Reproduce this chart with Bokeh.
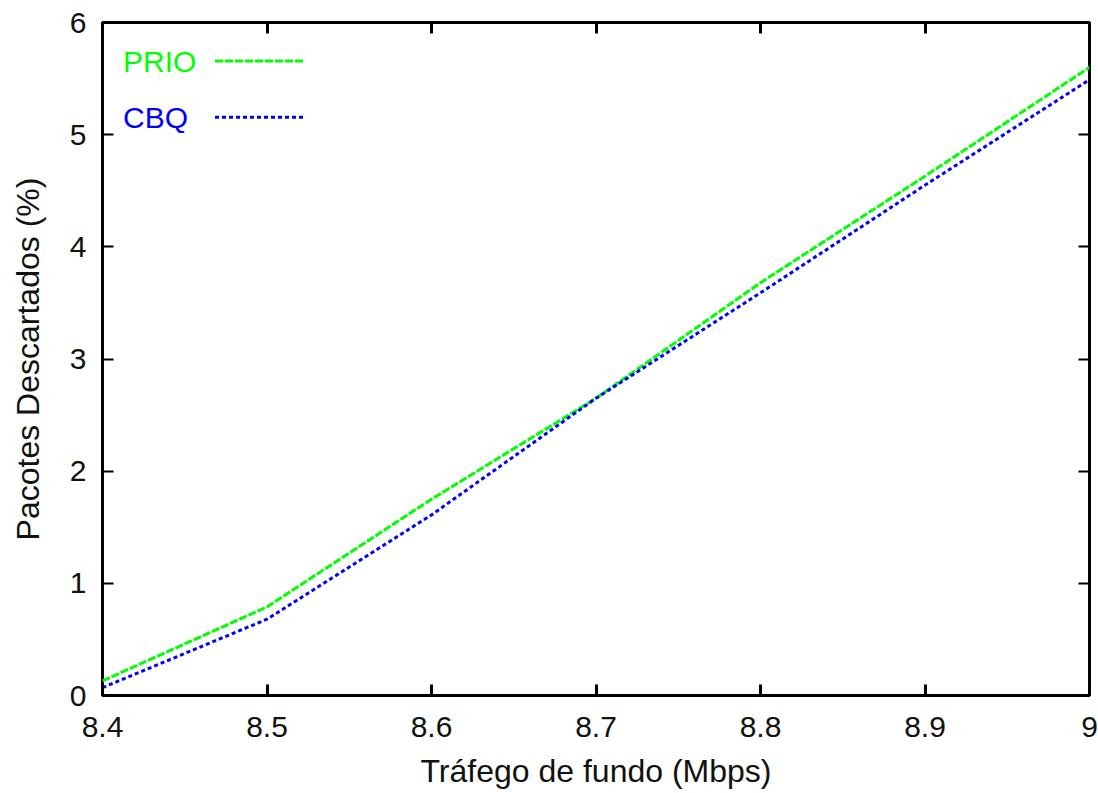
from bokeh.plotting import figure
from bokeh.models import (Range1d, FixedTicker, LinearAxis, Label, Arrow)
from bokeh.embed import file_html
from bokeh.resources import INLINE

# ---- data ----
traffic = [8.4, 8.5, 8.6, 8.7, 8.8, 8.9, 9.0]
prio = [0.13, 0.79, 1.75, 2.65, 3.68, 4.63, 5.60]
cbq = [0.07, 0.68, 1.61, 2.65, 3.59, 4.55, 5.49]

x_ticks = [8.4, 8.5, 8.6, 8.7, 8.8, 8.9, 9.0]
x_tick_labels = ["8.4", "8.5", "8.6", "8.7", "8.8", "8.9", "9"]
y_ticks = [0, 1, 2, 3, 4, 5, 6]
y_tick_labels = ["0", "1", "2", "3", "4", "5", "6"]

series_names = ["PRIO", "CBQ"]
series_colors = ["#00ff00", "#0000ff"]
series_dash = ["8 2", "4 3"]

FONT = "Liberation Sans"
FS = "30px"
LFS = "32px"

p = figure(width=1098, height=793, output_backend="svg", toolbar_location=None,
           x_range=Range1d(8.4, 9.0), y_range=Range1d(0, 6),
           min_border_left=102, min_border_right=9, min_border_top=22,
           min_border_bottom=98, x_axis_label="Tráfego de fundo (Mbps)",
           y_axis_label="Pacotes Descartados (%)")

p.grid.visible = False
p.outline_line_color = "black"
p.outline_line_width = 3
p.background_fill_color = "white"
p.border_fill_color = "white"

for ax in p.xaxis:
    ax.ticker = FixedTicker(ticks=x_ticks)
    ax.major_label_overrides = {t: l for t, l in zip(x_ticks, x_tick_labels)}
    ax.major_tick_line_width = 3
for ax in p.yaxis:
    ax.ticker = FixedTicker(ticks=y_ticks)
    ax.major_label_overrides = {t: l for t, l in zip(y_ticks, y_tick_labels)}
    ax.major_tick_line_width = 2

for ax in list(p.xaxis) + list(p.yaxis):
    ax.axis_line_color = None
    ax.major_tick_in = 11
    ax.major_tick_out = 0
    ax.minor_tick_line_color = None
    ax.major_label_text_font = FONT
    ax.major_label_text_font_size = FS
    ax.major_label_text_color = "#111111"
    ax.axis_label_text_font = FONT
    ax.axis_label_text_font_size = LFS
    ax.axis_label_text_font_style = "normal"
    ax.axis_label_text_color = "#111111"

p.xaxis.major_label_standoff = 21
p.yaxis.major_label_standoff = 16
p.xaxis.axis_label_standoff = 13
p.yaxis.axis_label_standoff = 21

# mirrored ticks (no labels)
top = LinearAxis(ticker=FixedTicker(ticks=x_ticks), axis_line_color=None,
                 major_tick_in=11, major_tick_out=0, major_tick_line_width=3,
                 minor_tick_line_color=None,
                 major_label_overrides={t: "" for t in x_ticks},
                 major_label_standoff=0)
right = LinearAxis(ticker=FixedTicker(ticks=y_ticks), axis_line_color=None,
                   major_tick_in=11, major_tick_out=0, major_tick_line_width=2,
                   minor_tick_line_color=None,
                   major_label_overrides={t: "" for t in y_ticks},
                   major_label_standoff=0)
p.add_layout(top, "above")
p.add_layout(right, "right")

# data lines
for ys, c, d in zip([prio, cbq], series_colors, series_dash):
    p.line(traffic, ys, line_color=c, line_width=3, line_dash=d)

# gnuplot-style key (text then sample)
key_y = [5.656, 5.156]
for name, c, d, ky in zip(series_names, series_colors, series_dash, key_y):
    p.add_layout(Label(x=8.4125, y=ky, text=name, text_color=c,
                       text_font=FONT, text_font_size=FS,
                       text_baseline="middle", text_align="left"))
    p.add_layout(Arrow(x_start=8.4684, y_start=ky, x_end=8.5232, y_end=ky,
                       end=None, line_color=c, line_width=3, line_dash=d))

open("out.html", "w").write(file_html(p, INLINE))
